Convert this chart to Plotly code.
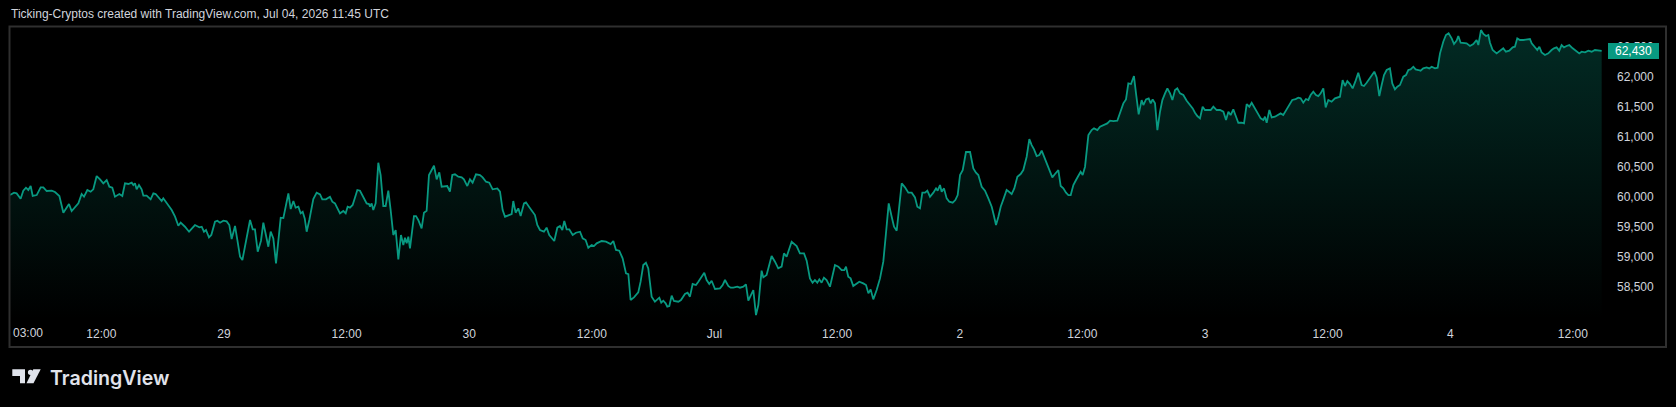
import plotly.graph_objects as go
import pandas as pd

# ---------------- data ----------------
START = "2026-06-28 00:00"   # chart time zone (UTC+3)

# hours after START
hours = [
    3.06, 3.45, 3.71, 4.10, 4.36, 4.62, 4.85, 5.08, 5.28, 5.67, 6.06, 6.32, 6.65, 7.14, 7.46, 7.89,
    8.28, 8.83, 9.09, 9.75, 10.07, 10.30, 10.63, 10.95, 11.21, 11.54, 11.87, 12.19, 12.52, 12.78,
    13.07, 13.33, 13.76, 14.05, 14.31, 14.64, 14.97, 15.13, 15.29, 15.45, 15.68, 15.94, 16.11,
    16.43, 16.82, 17.09, 17.31, 17.57, 17.90, 18.06, 18.39, 18.88, 19.21, 19.53, 19.76, 20.18,
    20.58, 21.16, 21.59, 21.82, 22.04, 22.24, 22.53, 22.76, 23.12, 23.35, 23.61, 23.94, 24.26,
    24.52, 24.75, 25.08, 25.31, 25.57, 25.80, 26.15, 26.55, 26.81, 27.03, 27.30, 27.62, 27.85,
    28.18, 28.34, 28.57, 28.83, 29.09, 29.38, 29.55, 29.81, 30.07, 30.30, 30.53, 30.79, 31.01,
    31.28, 31.50, 31.70, 31.90, 32.09, 32.35, 32.74, 33.07, 33.40, 33.62, 33.98, 34.37, 34.60,
    34.86, 35.19, 35.35, 35.68, 35.91, 36.10, 36.33, 36.59, 36.82, 37.05, 37.31, 37.64, 37.96,
    38.19, 38.29, 38.45, 38.61, 38.84, 39.10, 39.33, 39.59, 39.82, 40.08, 40.31, 40.57, 40.80,
    41.06, 41.32, 41.55, 41.71, 41.88, 42.04, 42.20, 42.59,
    42.79, 43.01, 43.34, 43.57, 43.83, 44.06, 44.32, 44.55, 44.81, 45.07, 45.30, 45.62, 45.85,
    46.11, 46.34, 46.60, 46.93, 47.26, 47.48, 47.81, 48.07, 48.33, 48.66, 49.05, 49.31, 49.64,
    49.96, 50.29, 50.75, 51.01, 51.27, 51.50, 51.82, 52.15, 52.31, 52.54, 52.80, 53.03, 53.36,
    53.55, 53.88, 54.20, 54.43, 54.66, 54.92, 55.31, 55.57, 55.83, 56.10, 56.32, 56.62, 56.88,
    57.11, 57.30, 57.53, 57.79, 58.12, 58.44, 58.84, 59.10, 59.39, 59.65, 59.98, 60.21, 60.47,
    60.96, 61.38, 61.61, 61.84, 62.10, 62.36, 62.68, 63.01, 63.34, 63.57, 63.79, 64.12, 64.54,
    64.77, 65.03, 65.29, 65.52, 65.69, 65.85, 66.17, 66.40, 66.60, 66.79, 66.99, 67.22, 67.38,
    67.58, 67.81, 68.03, 68.46, 68.72, 69.11, 69.37, 69.60, 69.86, 70.19, 70.42, 70.74, 71.00,
    71.23, 71.49, 71.72, 72.05, 72.54, 72.80, 73.03, 73.35, 73.58, 73.84, 74.23, 74.49, 74.82,
    75.08, 75.31, 75.63, 75.80, 76.06, 76.29, 76.61, 76.78, 77.10, 77.59, 77.92, 78.24, 78.57,
    78.80, 79.06, 79.55, 80.04, 80.36, 80.76, 81.02, 81.34, 81.60, 81.83, 82.06, 82.26, 82.48,
    82.71, 82.97, 83.30, 83.79, 84.12, 84.44, 84.70, 84.87, 85.09, 85.32, 85.58, 85.91, 86.17,
    86.56, 86.83, 87.06, 87.28, 87.54, 87.87, 88.20,
    88.52, 88.78, 89.05, 89.34, 89.57, 89.83, 90.09, 90.32, 90.64, 90.97, 91.30, 91.62, 91.85,
    92.11, 92.34, 92.60, 92.83, 93.09, 93.42, 93.68, 93.84, 94.07, 94.23, 94.46, 94.72, 94.98,
    95.31, 95.57, 95.80, 96.03, 96.29, 96.61, 97.01, 97.33, 97.59, 97.82, 98.15, 98.47, 98.80,
    99.13, 99.35, 99.55, 99.78, 100.01, 100.27, 100.59, 100.85, 101.08, 101.34, 101.64, 101.96,
    102.22, 102.55, 102.81, 103.04, 103.27, 103.53, 103.79, 104.02, 104.25, 104.51, 104.83,
    105.06, 105.32, 105.65, 105.88, 106.14, 106.40, 106.63, 106.86, 107.12, 107.38, 107.67,
    107.83, 108.03, 108.26, 108.59, 108.91, 109.14, 109.47, 109.73, 110.05, 110.44, 110.71,
    111.03, 111.42, 111.75, 112.01, 112.27, 112.50, 112.76, 113.05, 113.25, 113.51, 113.80,
    113.97, 114.23, 114.49, 114.69, 114.88, 115.11, 115.34, 115.60, 115.83, 116.09, 116.32,
    116.58, 116.81, 117.07, 117.29, 117.56, 117.88, 118.21, 118.53, 118.80, 119.02, 119.25,
    119.51, 119.77, 120.00, 120.33, 120.56, 120.82, 121.14, 121.47, 121.80, 122.06, 122.29,
    122.51, 122.77, 123.04, 123.26, 123.59, 123.82, 124.08, 124.34, 124.57, 124.90, 125.22,
    125.45, 125.71, 125.87, 126.04, 126.30, 126.53, 126.85,
    127.40, 127.66, 127.99, 128.25, 128.54, 128.87, 129.13, 129.36, 129.62, 129.88, 130.11,
    130.34, 130.60, 130.86, 131.09, 131.32, 131.58, 131.81, 132.07, 132.39, 132.72, 133.21,
    133.47, 133.70, 133.93, 134.19, 134.45, 134.71, 135.00, 135.33, 135.56, 135.82, 136.15,
    136.57, 136.80, 137.06, 137.29, 137.52, 137.78, 138.10, 138.33, 138.59, 138.82, 139.08,
    139.41, 139.67, 139.90, 140.12, 140.39, 140.61, 140.88, 141.10, 141.36, 141.69, 141.95,
    142.18, 142.51, 142.77, 143.00, 143.32, 143.58, 143.84, 144.14, 144.37, 144.63, 144.79,
    145.02, 145.34, 145.60, 145.93, 146.26, 146.58, 146.75, 147.01, 147.24, 147.50, 147.73,
    147.89, 148.15, 148.54, 148.93, 149.19, 149.45, 149.78, 150.11, 150.33, 150.56, 150.82,
    151.15, 151.48, 151.80, 151.97, 152.29, 152.52, 152.72, 152.94, 153.27, 153.60, 153.92,
    154.15, 154.41, 154.67, 154.90, 155.13, 155.39, 155.65, 155.98, 156.30, 156.63, 156.86,
    157.19, 157.51, 157.84, 158.16, 158.49, 158.82,
]

prices = [
    60028, 60067, 60056, 59967, 60100, 60150, 60112, 60178, 60012, 60028, 60156, 60156, 60095, 60100, 60078, 60012,
    59734, 59878, 59762, 59889, 60045, 60000, 60112, 60084, 60123, 60345, 60289, 60223, 60278, 60167,
    60150, 60000, 60045, 60012, 60223, 60212, 60234, 60195, 60223, 60123, 60195, 60123, 60017,
    60017, 59956, 60056, 60045, 59989, 59928, 59973, 59889, 59778, 59667, 59517, 59567, 59500,
    59417, 59528, 59489, 59500, 59417, 59445, 59323, 59362, 59584, 59600, 59567, 59600, 59589,
    59528, 59295, 59512, 59278, 59000, 58945, 59250, 59612, 59456, 59456, 59084, 59267, 59567,
    59323, 59167, 59417, 59306, 58889, 59456, 59650, 59645, 59862, 60056, 59795, 59928, 59817,
    59834, 59723, 59750, 59639, 59417, 59612, 59962, 60067, 60039, 59956, 59956, 60000, 59917,
    59889, 59789, 59723, 59762, 59723, 59834, 59817, 59862, 60000, 60112, 60100, 60000, 59889,
    59878, 59834, 59889, 59778, 59889, 60567, 60362, 59845, 59845, 60100, 59778, 59362, 59445,
    58956, 59362, 59195, 59317, 59223, 59334, 59139, 59678,
    59678, 59612, 59473, 59734, 59767, 60362, 60456, 60517, 60289, 60406, 60167, 60167, 60178,
    60084, 60362, 60373, 60334, 60323, 60289, 60178, 60289, 60234, 60373, 60362, 60323, 60250,
    60234, 60123, 60139, 60084, 59778, 59667, 59695, 59712, 59928, 59734, 59806, 59678, 59889,
    59906, 59823, 59750, 59695, 59528, 59445, 59417, 59484, 59362, 59306, 59262, 59484, 59512,
    59445, 59595, 59456, 59456, 59362, 59400, 59417, 59306, 59278, 59150, 59195, 59178, 59223,
    59262, 59250, 59223, 59211, 59262, 59112, 59100, 58973, 58723, 58711, 58278, 58323, 58406,
    58584, 58862, 58900, 58806, 58500, 58334, 58250, 58289, 58317, 58234, 58267, 58223, 58167,
    58178, 58350, 58262, 58250, 58278, 58378, 58400, 58334, 58545, 58528, 58584, 58678, 58734,
    58612, 58545, 58600, 58462, 58473, 58528, 58612, 58512, 58484, 58484, 58500, 58484, 58500,
    58539, 58267, 58378, 58445, 58028, 58195, 58767, 58656, 58695, 59012, 58917, 58806, 58834,
    59056, 59000, 59250, 59178, 59056, 59056, 58934, 58639, 58567, 58612, 58567, 58623, 58567,
    58650, 58612, 58500, 58862, 58834, 58778, 58778, 58834, 58667, 58639, 58512, 58556, 58584,
    58556, 58528, 58389, 58456, 58289, 58444, 58639,
    58917, 59389, 59889, 59667, 59500, 59433, 59833, 60222, 60156, 60067, 60067, 59989, 59833,
    59806, 60067, 60067, 60100, 60000, 60067, 60139, 60100, 60194, 60083, 60139, 59972, 59917,
    59900, 59944, 60028, 60361, 60444, 60745, 60745, 60472, 60400, 60361, 60167, 60100, 59972,
    59833, 59678, 59528, 59667, 59833, 59956, 60111, 60078, 60044, 60139, 60333, 60378,
    60444, 60667, 60961, 60861, 60789, 60678, 60695, 60767, 60667, 60545, 60417,
    60322, 60378, 60444, 60178, 60139, 60067, 60028, 60028, 60194, 60278, 60361,
    60417, 60361, 60500, 61028, 61111, 61139, 61111, 61167, 61195, 61222, 61267,
    61261, 61267, 61417, 61556, 61622, 61889, 61878, 62011, 61722, 61372, 61611,
    61528, 61622, 61639, 61556, 61622, 61556, 61111, 61417, 61611, 61722, 61806,
    61722, 61611, 61778, 61806, 61722, 61695, 61600, 61528, 61472, 61400, 61345,
    61306, 61500, 61445, 61445, 61445, 61500, 61445, 61445, 61417, 61278, 61417,
    61361, 61456, 61333, 61233, 61233, 61222, 61545, 61500, 61567, 61472, 61389,
    61306, 61278, 61333, 61233, 61445, 61322, 61333,
    61389, 61362, 61456, 61528, 61612, 61628, 61650, 61639, 61567, 61628, 61612,
    61695, 61750, 61695, 61678, 61723, 61806, 61489, 61612, 61584, 61639, 61667,
    61945, 61845, 61928, 61878, 61806, 61917, 62067, 61862, 61845, 61900, 61989,
    62084, 61989, 61678, 61862, 62028, 62112, 62139, 61889, 61789, 61834, 61862,
    62000, 62028, 62112, 62123, 62167, 62123, 62112, 62100, 62139, 62156, 62139,
    62167, 62139, 62150, 62389, 62584, 62695, 62723, 62639, 62545, 62601, 62678,
    62567, 62567, 62556, 62512, 62545, 62612, 62528, 62778, 62712, 62678, 62695,
    62567, 62445, 62389, 62445, 62473, 62417, 62434, 62489, 62500, 62639, 62612,
    62612, 62623, 62628, 62556, 62500, 62445, 62500, 62406, 62362, 62389, 62445,
    62473, 62489, 62434, 62528, 62489, 62512, 62528, 62473, 62434, 62389, 62417,
    62406, 62434, 62417, 62445, 62434, 62430,
]

tick_times = ["2026-06-28 12:00", "2026-06-29 00:00", "2026-06-29 12:00", "2026-06-30 00:00",
              "2026-06-30 12:00", "2026-07-01 00:00", "2026-07-01 12:00", "2026-07-02 00:00",
              "2026-07-02 12:00", "2026-07-03 00:00", "2026-07-03 12:00", "2026-07-04 00:00",
              "2026-07-04 12:00"]
tick_text = ["12:00", "29", "12:00", "30", "12:00", "Jul", "12:00", "2", "12:00", "3", "12:00", "4", "12:00"]
first_time_label = "03:00"
price_ticks = [58500, 59000, 59500, 60000, 60500, 61000, 61500, 62000, 62500]
last_price = 62430
title_text = "Ticking-Cryptos created with TradingView.com, Jul 04, 2026 11:45 UTC"

# ---------------- styling / layout ----------------
W, H = 1676, 407
PL, PR, PT, PB = 10, 1603, 28, 319          # plot area in pixels
X_RANGE = ["2026-06-28 03:03:30", "2026-07-04 14:57:00"]
Y_RANGE = [57962, 62812]

TEAL = "#089981"
TXT = "#d1d4dc"
FONT = "Liberation Sans, Arial, sans-serif"


def px_x(px):
    return (px - PL) / (PR - PL)


def px_y(py):
    return (PB - py) / (PB - PT)


times = pd.Timestamp(START) + pd.to_timedelta(hours, unit="h")

fig = go.Figure()
fig.add_trace(go.Scatter(
    x=times, y=prices, mode="lines",
    line=dict(color=TEAL, width=1.8),
    fill="tozeroy",
    fillgradient=dict(type="vertical",
                      colorscale=[[0, "rgba(8,153,129,0.0)"], [1, "rgba(8,153,129,0.28)"]],
                      start=Y_RANGE[0], stop=max(prices)),
    hoverinfo="skip", showlegend=False,
))

shapes = [
    # chart frame
    dict(type="rect", xref="paper", yref="paper",
         x0=px_x(9.5), x1=px_x(1666), y0=px_y(347), y1=px_y(26.5),
         line=dict(color="#2f2f2f", width=2), fillcolor="rgba(0,0,0,0)", layer="above"),
]

# TradingView logo mark
logo_col = "#e0e3eb"
ax0, ay0 = px_x(12.3), px_y(369.3)
shapes += [
    dict(type="path", xref="paper", yref="paper", xsizemode="pixel", ysizemode="pixel",
         xanchor=ax0, yanchor=ay0, path="M0,0 H12.7 V-14 H7.7 V-6.6 H0 Z",
         fillcolor=logo_col, line=dict(width=0)),
    dict(type="circle", xref="paper", yref="paper", xsizemode="pixel", ysizemode="pixel",
         xanchor=ax0, yanchor=ay0, x0=15.6, x1=20.8, y0=-0.4, y1=-5.6,
         fillcolor=logo_col, line=dict(width=0)),
    dict(type="path", xref="paper", yref="paper", xsizemode="pixel", ysizemode="pixel",
         xanchor=ax0, yanchor=ay0, path="M21,0 L28.4,0 L21.2,-14 L14.2,-14 Z",
         fillcolor=logo_col, line=dict(width=0)),
]

annotations = [
    dict(text=title_text, xref="paper", yref="paper", x=px_x(9), y=px_y(14),
         xanchor="left", yanchor="middle", showarrow=False,
         font=dict(family=FONT, size=12, color=TXT)),
    dict(text=first_time_label, xref="paper", yref="paper", x=px_x(11), y=px_y(333),
         xanchor="left", yanchor="middle", showarrow=False,
         font=dict(family=FONT, size=12, color=TXT)),
    dict(text=f"{last_price:,}", xref="paper", yref="y", x=px_x(1633.5), y=last_price,
         xanchor="center", yanchor="middle", showarrow=False,
         bgcolor=TEAL, width=49, height=14, borderpad=1, borderwidth=0,
         font=dict(family=FONT, size=12, color="#ffffff")),
    dict(text="TradingView", xref="paper", yref="paper", x=px_x(47.5), y=px_y(377.5),
         xanchor="left", yanchor="middle", showarrow=False,
         font=dict(family="Inter, sans-serif", size=19.6, color=logo_col, weight=600)),
]

fig.update_layout(
    width=W, height=H,
    margin=dict(l=PL, r=W - PR, t=PT, b=H - PB, pad=0),
    paper_bgcolor="#000000", plot_bgcolor="#000000",
    showlegend=False, hovermode=False,
    shapes=shapes, annotations=annotations,
    xaxis=dict(type="date", range=X_RANGE, showgrid=False, zeroline=False, showline=False,
               tickmode="array", tickvals=tick_times, ticktext=tick_text, ticks="",
               ticklabelstandoff=6,
               tickfont=dict(family=FONT, size=12, color=TXT), fixedrange=True),
    yaxis=dict(side="right", range=Y_RANGE, showgrid=False, zeroline=False, showline=False,
               tickmode="array", tickvals=price_ticks, ticktext=[f"{v:,}" for v in price_ticks],
               ticks="", ticklabelstandoff=13,
               tickfont=dict(family=FONT, size=12, color=TXT), fixedrange=True),
)

fig.write_html("out.html")
